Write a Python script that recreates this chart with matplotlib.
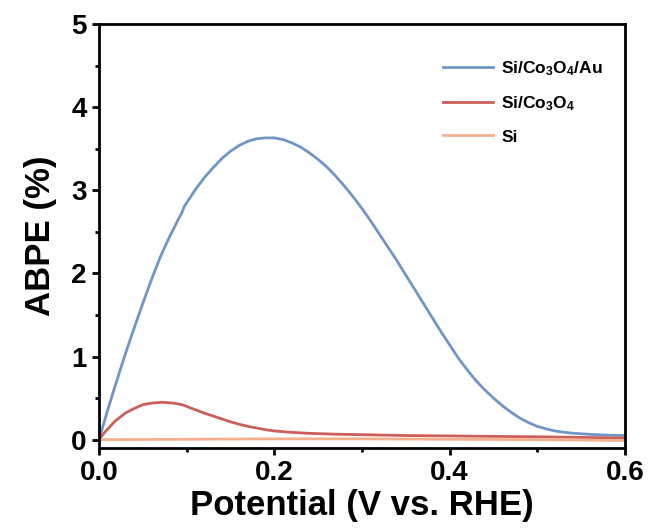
import matplotlib
matplotlib.use("Agg")
import matplotlib.pyplot as plt
from matplotlib.ticker import MultipleLocator, FormatStrFormatter

plt.rcParams['font.family'] = ['Liberation Sans', 'DejaVu Sans']
plt.rcParams['font.weight'] = 'bold'
plt.rcParams['mathtext.fontset'] = 'custom'
plt.rcParams['mathtext.rm'] = 'Liberation Sans:bold'
plt.rcParams['mathtext.it'] = 'Liberation Sans:bold'
plt.rcParams['mathtext.bf'] = 'Liberation Sans:bold'
plt.rcParams['mathtext.default'] = 'rm'

# Data
x_au = [0.0, 0.01, 0.02, 0.03, 0.04, 0.05, 0.06, 0.07, 0.08, 0.09, 0.095, 0.097,
        0.10, 0.11, 0.12, 0.13, 0.14, 0.15, 0.16, 0.17, 0.18, 0.19, 0.20, 0.21,
        0.22, 0.23, 0.24, 0.25, 0.26, 0.27, 0.28, 0.29, 0.30, 0.31, 0.32, 0.33,
        0.34, 0.35, 0.36, 0.37, 0.38, 0.39, 0.40, 0.41, 0.42, 0.43, 0.44, 0.45,
        0.46, 0.47, 0.48, 0.49, 0.50, 0.51, 0.52, 0.53, 0.54, 0.56, 0.58, 0.60]
y_au = [0.0, 0.36, 0.70, 1.03, 1.34, 1.64, 1.93, 2.20, 2.43, 2.64, 2.74, 2.80,
        2.85, 3.01, 3.15, 3.27, 3.38, 3.47, 3.54, 3.59, 3.62, 3.63, 3.63, 3.61,
        3.57, 3.52, 3.45, 3.37, 3.28, 3.17, 3.05, 2.92, 2.78, 2.63, 2.47, 2.31,
        2.15, 1.98, 1.81, 1.64, 1.47, 1.30, 1.14, 0.98, 0.84, 0.71, 0.60, 0.50,
        0.41, 0.33, 0.26, 0.205, 0.16, 0.13, 0.105, 0.09, 0.078, 0.064, 0.055, 0.05]

x_co = [0.0, 0.005, 0.01, 0.018, 0.03, 0.041, 0.05, 0.06, 0.072, 0.085, 0.095,
        0.10, 0.11, 0.12, 0.13, 0.14, 0.15, 0.16, 0.17, 0.18, 0.19, 0.20, 0.22,
        0.24, 0.27, 0.30, 0.35, 0.40, 0.50, 0.60]
y_co = [0.0, 0.07, 0.13, 0.22, 0.32, 0.38, 0.42, 0.44, 0.45, 0.44, 0.42,
        0.40, 0.36, 0.32, 0.285, 0.25, 0.215, 0.185, 0.16, 0.14, 0.12, 0.105, 0.088,
        0.076, 0.066, 0.06, 0.05, 0.045, 0.035, 0.02]

x_si = [0.0, 0.1, 0.2, 0.3, 0.4, 0.5, 0.6]
y_si = [0.0, 0.005, 0.01, 0.01, 0.005, 0.0, -0.01]

labels = [r'Si/Co$_3$O$_4$/Au', r'Si/Co$_3$O$_4$', 'Si']
colors = ['#7096c8', '#cc5f5a', '#f2b08f']

fig = plt.figure(figsize=(6.49, 5.31), dpi=100)
ax = fig.add_axes([99/649, 1-448/531, 526/649, 424/531])

ax.plot(x_au, y_au, color=colors[0], lw=2.0, label=labels[0])
ax.plot(x_co, y_co, color=colors[1], lw=2.0, label=labels[1])
ax.plot(x_si, y_si, color=colors[2], lw=2.0, label=labels[2])

ax.set_xlim(0, 0.6)
ax.set_ylim(-0.1, 5)
ax.xaxis.set_major_locator(MultipleLocator(0.2))
ax.xaxis.set_minor_locator(MultipleLocator(0.1))
ax.yaxis.set_major_locator(MultipleLocator(1))
ax.yaxis.set_minor_locator(MultipleLocator(0.5))
ax.xaxis.set_major_formatter(FormatStrFormatter('%.1f'))

for s in ax.spines.values():
    s.set_linewidth(2.0)
ax.tick_params(which='major', direction='out', length=5, width=2.0, labelsize=20, pad=4)
ax.tick_params(which='minor', direction='out', length=3, width=2.0)
for lab in ax.get_xticklabels() + ax.get_yticklabels():
    lab.set_fontweight('bold')

ax.set_xlabel('Potential (V vs. RHE)', fontsize=25, fontweight='bold', labelpad=2)
ax.set_ylabel('ABPE (%)', fontsize=25, fontweight='bold', labelpad=10)

leg = ax.legend(loc='upper left', bbox_to_anchor=((443-99)/526, (448-59)/424),
                frameon=False, fontsize=12.5, handlelength=2.9, handletextpad=0.45,
                labelspacing=0.95, borderpad=0, borderaxespad=0)
for t in leg.get_texts():
    t.set_fontweight('bold')

fig.savefig('out.png', dpi=100)
